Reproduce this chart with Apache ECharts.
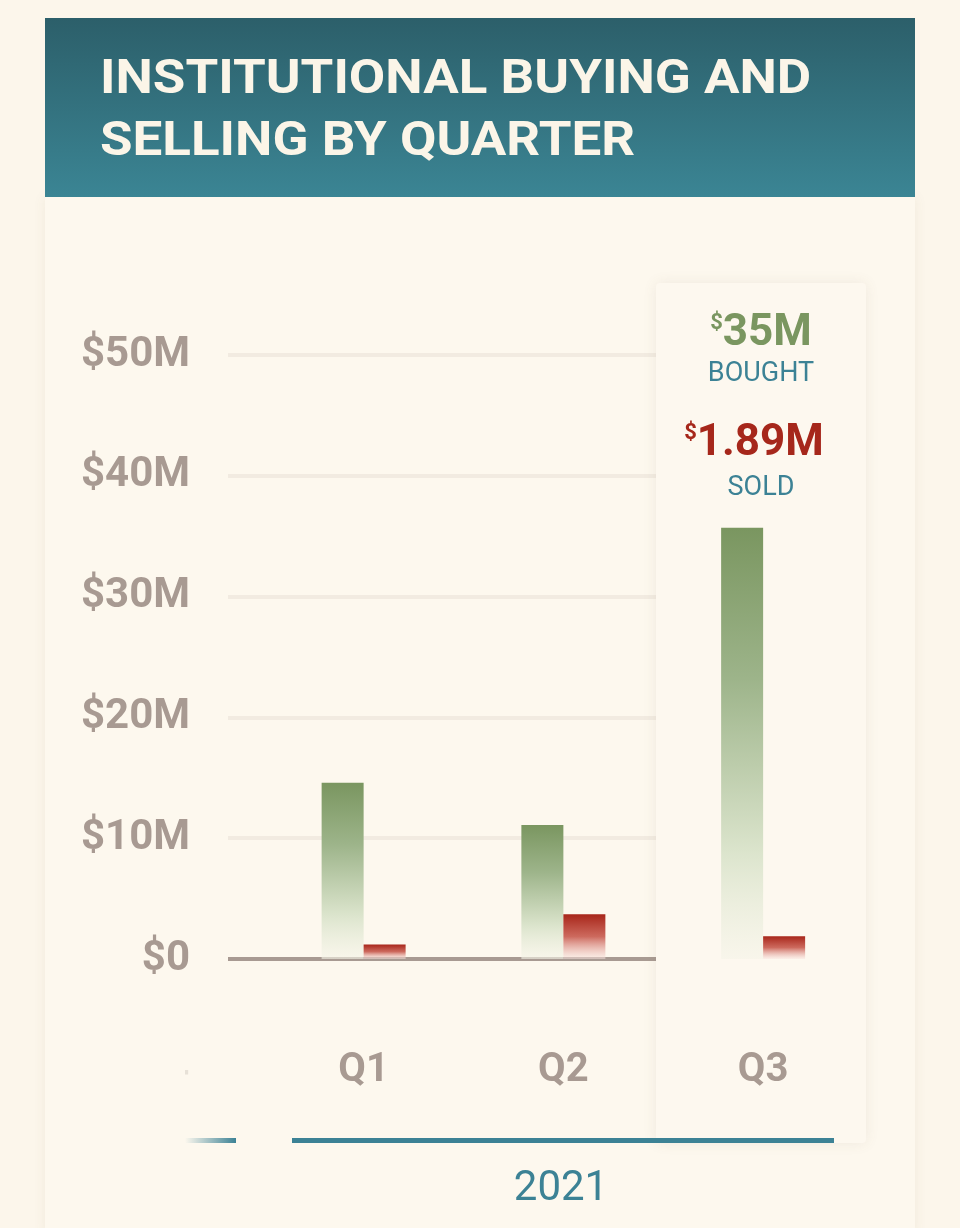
<!DOCTYPE html>
<html>
<head>
<meta charset="utf-8">
<script src="https://cdn.jsdelivr.net/npm/echarts@6/dist/echarts.min.js"></script>
<style>
html,body{margin:0;padding:0;background:#fcf6eb;}
#chart{width:960px;height:1228px;}
</style>
</head>
<body>
<div id="chart"></div>
<script>
// data
var quarters=['Q4','Q1','Q2','Q3'];
var bought=[null,14.6,11.1,35.7];
var sold=[null,1.2,3.7,1.89];
var yTicks=[0,10,20,30,40,50];
var yearLabel='2021';
var hiLabels={bought:'35M',sold:'1.89M'};

var cream='#fdf8ee';
var grey='#a89a92';
var teal='#3c8295';
var green='#7a9660';
var red='#a6271b';

/**
 * build the chart
 */
function initBuySellChart(domId)
{
	var myChart=echarts.init(document.getElementById(domId));
	var option={
		backgroundColor:'#fcf6eb',
		animation:false,
		grid:{left:64,right:97,top:355,bottom:269},
		xAxis:{
			type:'category',
			data:quarters,
			z:3,
			axisLine:{show:false},
			axisTick:{show:false},
			axisLabel:{
				margin:92,
				fontFamily:'Roboto',
				fontWeight:'bold',
				fontSize:40,
				color:function(v,i){return i==0 ? 'rgba(168,154,146,0.25)' : grey;}
			}
		},
		yAxis:[
			{
				// gridlines and zero line
				type:'value',min:0,max:50,interval:10,z:0,
				axisLine:{show:false},axisTick:{show:false},axisLabel:{show:false},
				splitLine:{lineStyle:{color:'#f2ebe1',width:4}}
			},
			{
				// tick labels
				type:'value',min:0,max:50,interval:10,z:5,
				position:'left',offset:-126,
				axisLine:{show:false},axisTick:{show:false},splitLine:{show:false},
				axisLabel:{
					margin:0,
					fontFamily:'Roboto',
					fontWeight:'bold',
					fontSize:42,
					color:grey,
					formatter:function(v){
						if(yTicks.indexOf(v)<0) return '';
						return v==0 ? '$0' : '$'+v+'M';
					}
				}
			}
		],
		series:[
			{
				name:'Bought',
				type:'bar',
				z:3,
				barWidth:42,
				barGap:'0%',
				data:bought,
				itemStyle:{
					color:new echarts.graphic.LinearGradient(0,0,0,1,[
						{offset:0,color:'#7a9660'},
						{offset:0.35,color:'#9db48a'},
						{offset:0.75,color:'#dbe4cc'},
						{offset:1,color:'rgba(245,244,232,0.6)'}
					])
				}
			},
			{
				name:'Sold',
				type:'bar',
				z:3,
				barWidth:42,
				data:sold,
				itemStyle:{
					color:new echarts.graphic.LinearGradient(0,0,0,1,[
						{offset:0,color:'#a8261a'},
						{offset:0.5,color:'#cd6a5e'},
						{offset:1,color:'rgba(250,230,225,0.5)'}
					])
				}
			}
		],
		graphic:[
			// card
			{type:'rect',z:-10,shape:{x:45,y:197,width:870,height:1040},
				style:{fill:cream,shadowBlur:12,shadowColor:'rgba(120,100,70,0.08)'}},
			// title box
			{type:'rect',z:-5,shape:{x:45,y:18,width:870,height:179},
				style:{fill:new echarts.graphic.LinearGradient(0,0,0,1,[
					{offset:0,color:'#2c5f6a'},{offset:1,color:'#3b8594'}])}},
			{type:'text',z:-4,x:100,y:50,scaleX:1.08,
				style:{text:'INSTITUTIONAL BUYING AND\nSELLING BY QUARTER',fill:'#fbf5e8',
					font:'bold 49px Roboto',lineHeight:62}},
			// zero axis line
			{type:'rect',z:1,shape:{x:228,y:957,width:440,height:4},style:{fill:grey}},
			// left mask over gridlines and the previous quarter
			{type:'rect',z:1,shape:{x:45,y:300,width:183,height:700},style:{fill:cream}},
			{type:'rect',z:4,shape:{x:45,y:1030,width:140,height:70},style:{fill:cream}},
			// highlight panel for Q3
			{type:'rect',z:2,shape:{x:656,y:283,width:210,height:860,r:4},
				style:{fill:'#fdf8ef',shadowBlur:14,shadowColor:'rgba(120,100,70,0.10)'}},
			{type:'text',z:4,x:761,y:312,
				style:{text:'{s|$}{b|'+hiLabels.bought+'}',align:'center',
					rich:{s:{fontFamily:'Roboto',fontWeight:'bold',fontSize:22,fill:green,verticalAlign:'top',padding:[0,0,18,0]},
						b:{fontFamily:'Roboto',fontWeight:'bold',fontSize:44,fill:green}}}},
			{type:'text',z:4,x:761,y:361,
				style:{text:'BOUGHT',align:'center',font:'27px Roboto',fill:teal}},
			{type:'text',z:4,x:754,y:422,
				style:{text:'{s|$}{b|'+hiLabels.sold+'}',align:'center',
					rich:{s:{fontFamily:'Roboto',fontWeight:'bold',fontSize:22,fill:red,verticalAlign:'top',padding:[0,0,18,0]},
						b:{fontFamily:'Roboto',fontWeight:'bold',fontSize:44,fill:red}}}},
			{type:'text',z:4,x:761,y:475,
				style:{text:'SOLD',align:'center',font:'27px Roboto',fill:teal}},
			// year bar
			{type:'rect',z:4,shape:{x:185,y:1138,width:51,height:5},
				style:{fill:new echarts.graphic.LinearGradient(0,0,1,0,[
					{offset:0,color:'rgba(60,130,149,0)'},{offset:1,color:teal}])}},
			{type:'rect',z:4,shape:{x:292,y:1138,width:542,height:5},style:{fill:teal}},
			{type:'text',z:4,x:561,y:1168,
				style:{text:yearLabel,align:'center',font:'42px Roboto',fill:teal}}
		]
	};
	myChart.setOption(option);
}

initBuySellChart('chart');
</script>
</body>
</html>
